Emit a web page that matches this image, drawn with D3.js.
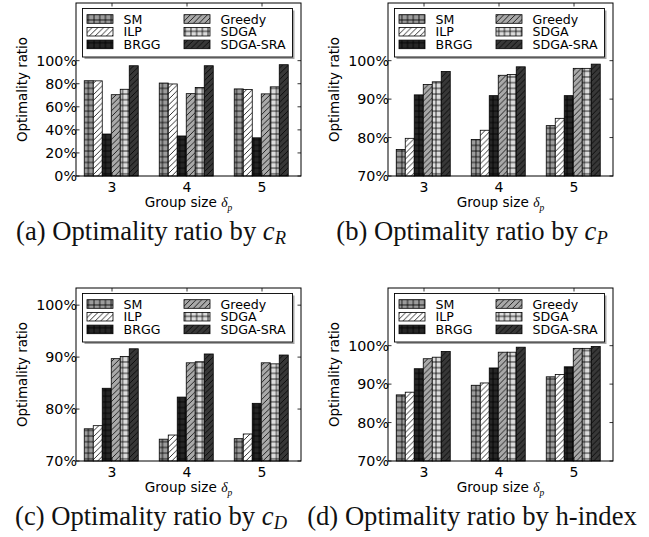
<!DOCTYPE html>
<html>
<head>
<meta charset="utf-8">
<script src="https://cdn.jsdelivr.net/npm/d3@7"></script>
<style>
  body { margin: 0; background: #fff; }
  svg { display: block; }
</style>
</head>
<body>
<svg id="chart" width="649" height="537"></svg>
<script>
// group sizes on the x axis and the six methods
const groups = [3, 4, 5];
const methods = ['SM', 'ILP', 'BRGG', 'Greedy', 'SDGA', 'SDGA-SRA'];

// optimality ratio (%) per method, one value per group size
const ratioByCR = [
  [82.6, 80.6, 75.5],
  [82.5, 79.8, 75.0],
  [36.4, 34.7, 33.1],
  [70.5, 71.4, 71.2],
  [75.2, 76.8, 77.3],
  [95.6, 95.6, 96.5],
];
const ratioByCP = [
  [76.9, 79.5, 83.1],
  [79.8, 81.9, 85.0],
  [91.1, 90.9, 90.9],
  [93.8, 96.2, 98.0],
  [94.5, 96.4, 98.0],
  [97.2, 98.4, 99.1],
];
const ratioByCD = [
  [76.2, 74.2, 74.3],
  [76.8, 75.0, 75.2],
  [84.0, 82.3, 81.1],
  [89.7, 88.9, 88.9],
  [90.1, 89.1, 88.7],
  [91.6, 90.6, 90.4],
];
const ratioByH = [
  [87.2, 89.7, 91.9],
  [87.9, 90.3, 92.5],
  [94.0, 94.2, 94.5],
  [96.6, 98.3, 99.3],
  [97.0, 98.3, 99.3],
  [98.5, 99.6, 99.8],
];

const ticksFrom0 = [0, 20, 40, 60, 80, 100];
const ticksFrom70 = [70, 80, 90, 100];

// fill + hatch style per method
const styles = [
  { fill: '#9c9c9c', hatch: 'grid' },
  { fill: '#ffffff', hatch: 'diag' },
  { fill: '#262626', hatch: 'grid' },
  { fill: '#a9a9a9', hatch: 'diag' },
  { fill: '#dcdcdc', hatch: 'grid' },
  { fill: '#383838', hatch: 'diag' },
];

const svg = d3.select('#chart');
const defs = svg.append('defs');
const hs = 5.7;

styles.forEach((s, i) => {
  const p = defs.append('pattern')
    .attr('id', 'pat' + i)
    .attr('patternUnits', 'userSpaceOnUse')
    .attr('width', hs).attr('height', hs);
  p.append('rect').attr('width', hs).attr('height', hs).attr('fill', s.fill);
  const h = hs / 2;
  const d = s.hatch === 'grid'
    ? `M0,${h}H${hs}M${h},0V${hs}`
    : `M0,${hs}L${hs},0M${-h},${h}L${h},${-h}M${h},${hs + h}L${hs + h},${h}`;
  p.append('path').attr('d', d)
    .attr('stroke', '#000').attr('stroke-width', 0.8).attr('fill', 'none');
});

const fw = 225, fh = 173;
const panels = [
  { data: ratioByCR, domain: [0, 150], ticks: ticksFrom0, x0: 76, y0: 3, cap: 'a', capX: 151, capY: 240, by: ['c', 'R'] },
  { data: ratioByCP, domain: [70, 115], ticks: ticksFrom70, x0: 388, y0: 3, cap: 'b', capX: 472, capY: 240, by: ['c', 'P'] },
  { data: ratioByCD, domain: [70, 103.3], ticks: ticksFrom70, x0: 76, y0: 288, cap: 'c', capX: 151, capY: 525, by: ['c', 'D'] },
  { data: ratioByH, domain: [70, 115], ticks: ticksFrom70, x0: 388, y0: 288, cap: 'd', capX: 472, capY: 525, by: null },
];

const sans = 'DejaVu Sans, sans-serif';
const serif = 'Liberation Serif, Times New Roman, serif';
const barW = 0.12;
const captions = [];

panels.forEach((pn) => {
  const x = d3.scaleLinear().domain([2.52, 5.52]).range([pn.x0, pn.x0 + fw]);
  const y = d3.scaleLinear().domain(pn.domain).range([pn.y0 + fh, pn.y0]);
  const g = svg.append('g');

  // bars
  methods.forEach((m, i) => {
    g.selectAll(null)
      .data(pn.data[i].map((v, j) => ({ v, grp: groups[j] })))
      .join('rect')
      .attr('x', (d) => x(d.grp - 0.37 + i * barW))
      .attr('width', x(barW) - x(0))
      .attr('y', (d) => y(d.v))
      .attr('height', (d) => y(pn.domain[0]) - y(d.v))
      .attr('fill', `url(#pat${i})`)
      .attr('stroke', '#000')
      .attr('stroke-width', 0.8);
  });

  // ticks, inward on all four sides
  const tl = 3.5;
  const tk = g.append('g').attr('stroke', '#000').attr('stroke-width', 0.8);
  pn.ticks.forEach((t) => {
    tk.append('line').attr('x1', pn.x0).attr('x2', pn.x0 + tl).attr('y1', y(t)).attr('y2', y(t));
    tk.append('line').attr('x1', pn.x0 + fw).attr('x2', pn.x0 + fw - tl).attr('y1', y(t)).attr('y2', y(t));
  });
  groups.forEach((v) => {
    tk.append('line').attr('x1', x(v)).attr('x2', x(v)).attr('y1', pn.y0).attr('y2', pn.y0 + tl);
    tk.append('line').attr('x1', x(v)).attr('x2', x(v)).attr('y1', pn.y0 + fh).attr('y2', pn.y0 + fh - tl);
  });

  g.append('rect')
    .attr('x', pn.x0).attr('y', pn.y0).attr('width', fw).attr('height', fh)
    .attr('fill', 'none').attr('stroke', '#000').attr('stroke-width', 1);

  // tick labels
  g.selectAll(null).data(pn.ticks).join('text')
    .attr('x', pn.x0 + 1).attr('y', (d) => y(d)).attr('dy', '0.36em')
    .attr('text-anchor', 'end')
    .attr('font-family', sans).attr('font-size', 14.3)
    .text((d) => d + '%');
  g.selectAll(null).data(groups).join('text')
    .attr('x', (d) => x(d)).attr('y', pn.y0 + fh + 15.5)
    .attr('text-anchor', 'middle')
    .attr('font-family', sans).attr('font-size', 14)
    .text((d) => d);

  // axis labels
  g.append('text')
    .attr('transform', `translate(${pn.x0 - 49},${pn.y0 + fh / 2}) rotate(-90)`)
    .attr('text-anchor', 'middle')
    .attr('font-family', sans).attr('font-size', 13.4)
    .text('Optimality ratio');
  const xl = g.append('text')
    .attr('x', pn.x0 + fw / 2).attr('y', pn.y0 + fh + 31)
    .attr('text-anchor', 'middle')
    .attr('font-family', sans).attr('font-size', 13.6);
  xl.append('tspan').text('Group size ');
  xl.append('tspan').attr('font-family', serif).attr('font-style', 'italic').text('δ');
  xl.append('tspan').attr('font-family', serif).attr('font-style', 'italic')
    .attr('font-size', 9.5).attr('dy', 3.5).text('p');

  // legend with shadow
  const lx = pn.x0 + 6.5, ly = pn.y0 + 5.5, lw = fw - 15, lh = 48.5;
  const lg = g.append('g');
  lg.append('rect').attr('x', lx + 2).attr('y', ly + 2).attr('width', lw).attr('height', lh)
    .attr('fill', '#a6a6a6');
  lg.append('rect').attr('x', lx).attr('y', ly).attr('width', lw).attr('height', lh)
    .attr('fill', '#fff').attr('stroke', '#000').attr('stroke-width', 0.9);
  methods.forEach((m, i) => {
    const col = Math.floor(i / 3), row = i % 3;
    const px = lx + 4.5 + col * 97;
    const cy = ly + 10.5 + row * 12.7;
    lg.append('rect').attr('x', px).attr('y', cy - 4.3).attr('width', 26).attr('height', 8.6)
      .attr('fill', `url(#pat${i})`).attr('stroke', '#000').attr('stroke-width', 0.8);
    lg.append('text').attr('x', px + 36.5).attr('y', cy + 4.6)
      .attr('font-family', sans).attr('font-size', 12.6)
      .text(m);
  });

  // caption
  const cp = svg.append('text')
    .attr('x', pn.capX).attr('y', pn.capY)
    .attr('text-anchor', 'middle')
    .attr('font-family', serif).attr('font-size', 18).attr('fill', '#111');
  cp.append('tspan').text(`(${pn.cap}) Optimality ratio by ` + (pn.by ? '' : 'h-index'));
  if (pn.by) {
    cp.append('tspan').attr('font-style', 'italic').text(pn.by[0]);
    cp.append('tspan').attr('font-style', 'italic').attr('font-size', 12.5).attr('dy', 3).text(pn.by[1]);
  }
  captions.push(cp);
});

// scale caption font so caption (a) spans about the same width as in the figure
const wA = captions[0].node().getComputedTextLength();
const k = 270 / wA;
captions.forEach((cp) => {
  cp.attr('font-size', 18 * k);
  cp.selectAll('tspan').filter(function () { return d3.select(this).attr('font-size'); })
    .attr('font-size', 12.5 * k).attr('dy', 3 * k);
});
</script>
</body>
</html>
